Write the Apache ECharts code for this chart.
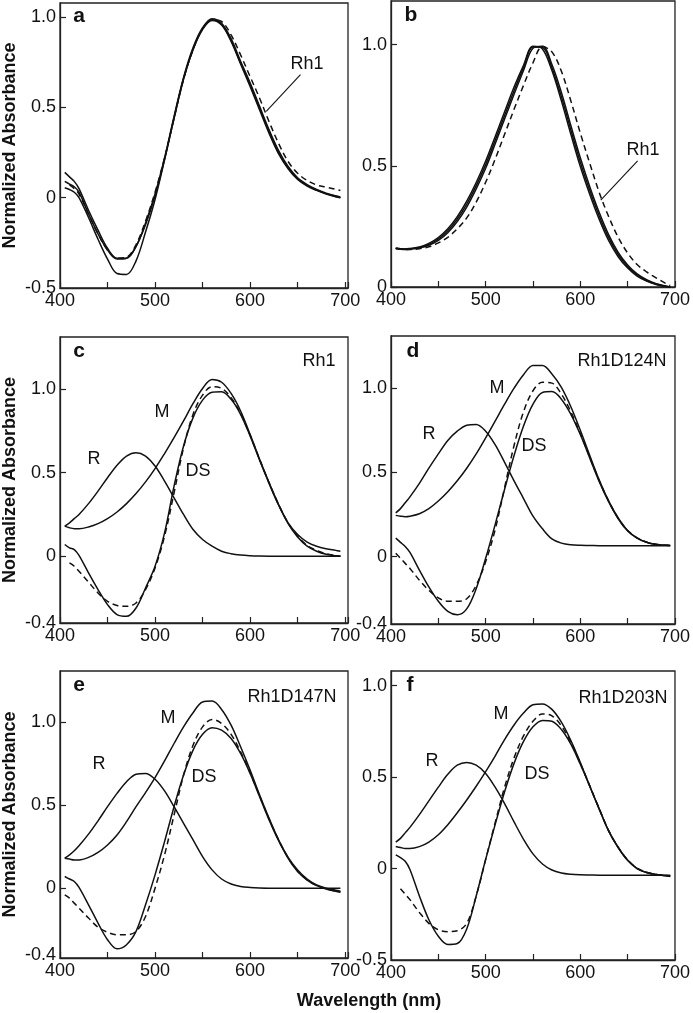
<!DOCTYPE html>
<html>
<head>
<meta charset="utf-8">
<script src="https://cdn.jsdelivr.net/npm/echarts@6/dist/echarts.min.js"></script>
<style>
html,body{margin:0;padding:0;background:#fff;}
#chart{width:693px;height:1013px;}
</style>
</head>
<body>
<div id="chart"></div>
<script>
// Wavelength grid (nm)
const wl = [405,410,415,420,430,440,450,460,470,480,490,500,510,520,530,540,550,560,570,580,590,600,610,620,630,640,650,660,670,680,690,695];

// Panel a
const aSolid1 = [0.055,0.045,0.03,0.0,-0.11,-0.23,-0.34,-0.42,-0.425,-0.35,-0.19,-0.01,0.21,0.44,0.66,0.82,0.935,0.985,0.96,0.87,0.745,0.625,0.495,0.365,0.25,0.165,0.105,0.068,0.042,0.022,0.006,0.0];
const aSolid2 = [0.14,0.115,0.09,0.05,-0.07,-0.18,-0.28,-0.335,-0.335,-0.27,-0.14,0.02,0.22,0.45,0.665,0.83,0.94,0.99,0.965,0.88,0.755,0.635,0.505,0.375,0.26,0.172,0.11,0.072,0.045,0.025,0.01,0.004];
const aSolid3 = [0.09,0.075,0.06,0.03,-0.09,-0.2,-0.29,-0.34,-0.335,-0.27,-0.15,0.01,0.21,0.44,0.655,0.82,0.93,0.98,0.955,0.865,0.74,0.615,0.485,0.355,0.242,0.16,0.1,0.064,0.04,0.02,0.005,0.0];
const aDashed = [null,0.07,0.05,0.02,-0.09,-0.2,-0.29,-0.335,-0.33,-0.26,-0.13,0.03,0.22,0.44,0.655,0.82,0.935,0.985,0.975,0.9,0.79,0.67,0.55,0.42,0.3,0.2,0.135,0.095,0.07,0.058,0.046,0.04];

// Panel b
const bSolid1 = [0.16,0.158,0.157,0.158,0.163,0.176,0.198,0.232,0.28,0.342,0.418,0.505,0.605,0.708,0.81,0.905,0.99,0.988,0.905,0.785,0.648,0.515,0.398,0.293,0.204,0.134,0.085,0.05,0.027,0.012,0.003,0.0];
const bSolid2 = [0.158,0.156,0.155,0.156,0.161,0.172,0.192,0.224,0.27,0.33,0.405,0.49,0.59,0.693,0.795,0.893,0.985,0.993,0.918,0.803,0.666,0.533,0.414,0.307,0.215,0.143,0.091,0.054,0.03,0.014,0.004,0.0];
const bSolid3 = [0.16,0.158,0.157,0.159,0.165,0.18,0.204,0.24,0.29,0.354,0.431,0.52,0.62,0.723,0.825,0.915,0.993,0.982,0.893,0.768,0.63,0.497,0.382,0.279,0.191,0.125,0.078,0.045,0.024,0.01,0.002,0.0];
const bDashed = [0.16,0.157,0.155,0.155,0.158,0.166,0.182,0.205,0.24,0.285,0.35,0.432,0.527,0.63,0.733,0.832,0.925,0.992,0.97,0.89,0.768,0.635,0.51,0.39,0.29,0.205,0.14,0.093,0.062,0.038,0.015,0.006];

// Panel c (Rh1)
const cR = [0.18,0.2,0.225,0.25,0.315,0.39,0.47,0.545,0.6,0.62,0.6,0.54,0.45,0.35,0.25,0.16,0.1,0.06,0.03,0.015,0.007,0.003,0.001,0,0,0,0,0,0,0,0,0];
const cM = [0.18,0.17,0.165,0.165,0.175,0.195,0.225,0.265,0.315,0.375,0.445,0.525,0.615,0.71,0.81,0.915,1.005,1.058,1.042,0.975,0.87,0.73,0.58,0.44,0.31,0.2,0.13,0.085,0.06,0.045,0.035,0.03];
const cDS = [0.07,0.05,0.04,0.005,-0.1,-0.2,-0.29,-0.35,-0.36,-0.31,-0.19,-0.06,0.14,0.42,0.66,0.83,0.935,0.982,0.985,0.94,0.85,0.72,0.575,0.435,0.305,0.195,0.115,0.06,0.03,0.012,0.003,0.0];
const cDSd = [null,-0.04,-0.06,-0.09,-0.155,-0.22,-0.27,-0.295,-0.3,-0.28,-0.2,-0.07,0.12,0.38,0.65,0.85,0.965,1.015,1.005,0.95,0.855,0.725,0.58,0.44,0.31,0.2,0.12,0.065,0.035,0.015,0.005,0.0];

// Panel d (Rh1D124N)
const dR = [0.26,0.285,0.32,0.355,0.435,0.525,0.61,0.69,0.745,0.78,0.785,0.745,0.665,0.56,0.45,0.345,0.24,0.165,0.105,0.08,0.07,0.067,0.066,0.065,0.065,0.065,0.065,0.065,0.065,0.065,0.065,0.065];
const dM = [0.245,0.24,0.237,0.24,0.255,0.285,0.33,0.385,0.45,0.525,0.61,0.705,0.805,0.905,1.0,1.08,1.135,1.135,1.085,1.005,0.89,0.75,0.6,0.455,0.33,0.23,0.155,0.11,0.085,0.072,0.067,0.066];
const dDS = [0.11,0.085,0.06,0.025,-0.08,-0.18,-0.265,-0.325,-0.345,-0.31,-0.19,-0.01,0.19,0.4,0.6,0.775,0.905,0.975,0.98,0.935,0.845,0.725,0.585,0.445,0.325,0.225,0.152,0.11,0.085,0.072,0.067,0.066];
const dDSd = [0.02,-0.01,-0.04,-0.07,-0.14,-0.2,-0.245,-0.265,-0.265,-0.25,-0.17,-0.03,0.16,0.41,0.66,0.86,0.985,1.035,1.03,0.965,0.86,0.73,0.59,0.45,0.33,0.228,0.155,0.112,0.086,0.073,0.068,0.067];

// Panel e (Rh1D147N)
const eR = [0.18,0.2,0.225,0.255,0.325,0.405,0.49,0.57,0.64,0.685,0.69,0.655,0.585,0.49,0.39,0.29,0.19,0.11,0.055,0.025,0.01,0.004,0.001,0,0,0,0,0,0,0,0,0];
const eM = [0.18,0.175,0.17,0.17,0.185,0.215,0.26,0.32,0.4,0.49,0.575,0.665,0.765,0.87,0.97,1.055,1.12,1.125,1.075,0.98,0.85,0.71,0.56,0.42,0.29,0.185,0.11,0.055,0.02,0.0,-0.012,-0.018];
const eDS = [0.07,0.055,0.04,0.005,-0.1,-0.21,-0.31,-0.365,-0.34,-0.26,-0.1,0.08,0.28,0.49,0.68,0.83,0.925,0.965,0.95,0.9,0.81,0.69,0.55,0.41,0.285,0.18,0.1,0.048,0.015,-0.005,-0.018,-0.025];
const eDSd = [-0.04,-0.06,-0.09,-0.12,-0.18,-0.235,-0.265,-0.28,-0.28,-0.26,-0.17,0.0,0.2,0.44,0.68,0.86,0.97,1.015,0.99,0.925,0.82,0.695,0.555,0.415,0.29,0.183,0.102,0.05,0.017,-0.004,-0.017,-0.022];

// Panel f (Rh1D203N)
const fR = [0.145,0.165,0.195,0.225,0.295,0.37,0.445,0.515,0.565,0.58,0.565,0.52,0.445,0.355,0.255,0.16,0.08,0.025,-0.008,-0.024,-0.031,-0.034,-0.035,-0.036,-0.036,-0.036,-0.036,-0.036,-0.036,-0.036,-0.036,-0.036];
const fM = [0.12,0.115,0.11,0.11,0.12,0.145,0.185,0.24,0.305,0.375,0.45,0.53,0.615,0.705,0.785,0.85,0.895,0.9,0.87,0.8,0.7,0.58,0.45,0.325,0.205,0.115,0.045,0.0,-0.022,-0.033,-0.038,-0.04];
const fDS = [0.075,0.06,0.04,-0.005,-0.15,-0.28,-0.37,-0.415,-0.41,-0.33,-0.15,0.05,0.24,0.42,0.575,0.695,0.775,0.81,0.805,0.76,0.68,0.57,0.45,0.325,0.205,0.115,0.045,0.0,-0.022,-0.033,-0.04,-0.043];
const fDSd = [null,-0.11,-0.14,-0.17,-0.24,-0.3,-0.335,-0.345,-0.34,-0.3,-0.15,0.05,0.25,0.445,0.605,0.725,0.805,0.845,0.835,0.78,0.69,0.575,0.452,0.327,0.207,0.117,0.047,0.002,-0.02,-0.032,-0.038,-0.042];

// Leader lines (data coordinates)
const aLeader = [[617,0.477],[653,0.68]];
const bLeader = [[621.6,0.358],[660.5,0.52]];

// Tick label values
const xLabels = [400,500,600,700];
const yTicks = [0,0.5,1.0];
const yLabelsA = [-0.5,0,0.5,1.0];
const yLabelsB = [0,0.5,1.0];
const yLabelsCDE = [-0.4,0,0.5,1.0];
const yLabelsF = [-0.5,0,0.5,1.0];

const FONT = '"Liberation Sans", Arial, Helvetica, sans-serif';
const INK = '#111';
const FRAME = '#222';

const panels = [
  {left:58, top:3, width:290, height:285, xmax:703, ymin:-0.5, ymax:1.077, ylab:yLabelsA, yname:true,
   solids:[aSolid1,aSolid2,aSolid3], dashed:[aDashed], leader:aLeader},
  {left:391, top:1, width:286, height:286, xmax:700, ymin:0, ymax:1.18, ylab:yLabelsB, yname:false,
   solids:[bSolid1,bSolid2,bSolid3], dashed:[bDashed], leader:bLeader},
  {left:58, top:337, width:290, height:286, xmax:703, ymin:-0.4, ymax:1.313, ylab:yLabelsCDE, yname:true,
   solids:[cR,cM,cDS], dashed:[cDSd]},
  {left:391, top:336, width:286, height:288, xmax:700, ymin:-0.4, ymax:1.31, ylab:yLabelsCDE, yname:false,
   solids:[dR,dM,dDS], dashed:[dDSd]},
  {left:58, top:671, width:290, height:287, xmax:703, ymin:-0.42, ymax:1.306, ylab:yLabelsCDE, yname:true,
   solids:[eR,eM,eDS], dashed:[eDSd]},
  {left:391, top:671, width:286, height:289, xmax:700, ymin:-0.5, ymax:1.08, ylab:yLabelsF, yname:false,
   solids:[fR,fM,fDS], dashed:[fDSd]}
];

const zip = arr => wl.map((w,i) => [w, arr[i]]);
const fmtY = v => (Math.abs(v) < 1e-9 ? '0' : v.toFixed(1));

const grid = [], xAxis = [], yAxis = [], series = [];
panels.forEach((p, i) => {
  grid.push({left:p.left, top:p.top, width:p.width, height:p.height, show:true,
    borderColor:FRAME, borderWidth:1.3});
  xAxis.push({type:'value', gridIndex:i, min:400, max:p.xmax, interval:50,
    axisLine:{show:true, onZero:false, lineStyle:{color:FRAME, width:1.3}}, splitLine:{show:false},
    axisTick:{show:true, inside:true, length:6, lineStyle:{color:FRAME, width:1.2}},
    axisLabel:{show:true, customValues:xLabels, margin:4, color:INK, fontSize:18, fontFamily:FONT}});
  yAxis.push({type:'value', gridIndex:i, min:p.ymin, max:p.ymax,
    axisLine:{show:true, onZero:false, lineStyle:{color:FRAME, width:1.3}}, splitLine:{show:false},
    axisTick:{show:true, inside:true, length:6, customValues:yTicks, lineStyle:{color:FRAME, width:1.2}},
    axisLabel:{show:true, customValues:p.ylab, margin:4, color:INK, fontSize:18, fontFamily:FONT, formatter: fmtY},
    name: p.yname ? 'Normalized Absorbance' : '', nameLocation:'middle', nameGap:41,
    nameTextStyle:{fontWeight:'bold', fontSize:18, fontFamily:FONT, color:INK}});
  p.solids.forEach(arr => series.push({type:'line', xAxisIndex:i, yAxisIndex:i, data:zip(arr),
    showSymbol:false, symbol:'none', smooth:0.35, silent:true,
    lineStyle:{color:INK, width:1.5}}));
  p.dashed.forEach(arr => series.push({type:'line', xAxisIndex:i, yAxisIndex:i, data:zip(arr),
    showSymbol:false, symbol:'none', smooth:0.35, silent:true,
    lineStyle:{color:INK, width:1.5, type:[6,4]}}));
  if (p.leader) series.push({type:'line', xAxisIndex:i, yAxisIndex:i, data:p.leader,
    showSymbol:false, symbol:'none', silent:true, lineStyle:{color:INK, width:1.1}});
});

const txt = (x, y, text, opts={}) => ({type:'text', x, y, silent:true,
  style:Object.assign({text, fill:INK, font:(opts.bold?'bold ':'') + (opts.size||18) + 'px ' + FONT,
    textAlign:opts.align||'center', textVerticalAlign:'middle', align:opts.align||'center', verticalAlign:'middle'})});

const graphic = [
  txt(79, 16, 'a', {bold:true, size:21}),
  txt(411, 15, 'b', {bold:true, size:21}),
  txt(79, 351, 'c', {bold:true, size:21}),
  txt(413, 351, 'd', {bold:true, size:21}),
  txt(79, 685, 'e', {bold:true, size:21}),
  txt(410, 685, 'f', {bold:true, size:21}),
  txt(307, 64, 'Rh1'),
  txt(643, 150, 'Rh1'),
  txt(319, 361, 'Rh1'),
  txt(162, 412, 'M'), txt(94, 459, 'R'), txt(198, 471, 'DS'),
  txt(622, 361, 'Rh1D124N'),
  txt(497, 388, 'M'), txt(429, 434, 'R'), txt(534, 446, 'DS'),
  txt(292, 697, 'Rh1D147N'),
  txt(168, 718, 'M'), txt(99, 764, 'R'), txt(204, 777, 'DS'),
  txt(623, 698, 'Rh1D203N'),
  txt(501, 714, 'M'), txt(432, 761, 'R'), txt(537, 774, 'DS'),
  txt(369, 1001, 'Wavelength (nm)', {bold:true, size:18})
];

const chart = echarts.init(document.getElementById('chart'), null, {renderer:'canvas'});
chart.setOption({animation:false, backgroundColor:'#fff', grid, xAxis, yAxis, series, graphic});
</script>
</body>
</html>
